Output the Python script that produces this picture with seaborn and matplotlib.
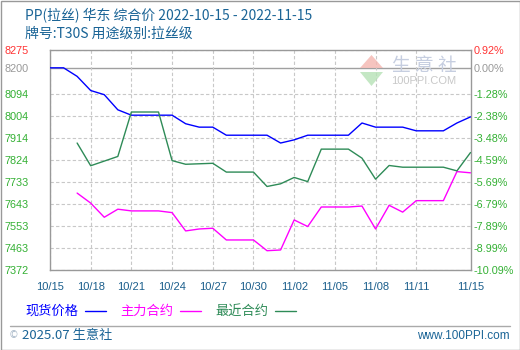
import numpy as np
import pandas as pd
import matplotlib
matplotlib.use("Agg")
import matplotlib.pyplot as plt
import seaborn as sns
from matplotlib.lines import Line2D
from matplotlib.patches import Rectangle, Polygon

sns.set_theme(style="white")
plt.rcParams['font.family'] = ['Noto Sans CJK SC', 'DejaVu Sans']

# ---------------- data ----------------
dates = pd.date_range("2022-10-15", "2022-11-15", freq="D")
spot = [8200, 8200, 8165, 8107, 8090, 8028, 8006, 8006, 8006, 8006,
        7971, 7957, 7957, 7924, 7924, 7924, 7924, 7892, 7905, 7924,
        7924, 7924, 7924, 7974, 7957, 7957, 7957, 7942, 7942, 7942,
        7974, 7999]
main_contract = [np.nan, np.nan, 7687, 7646, 7588, 7621, 7614, 7614, 7614, 7607,
                 7532, 7540, 7543, 7495, 7495, 7495, 7451, 7454, 7577, 7550,
                 7630, 7630, 7630, 7634, 7540, 7637, 7609, 7656, 7656, 7656,
                 7775, 7770]
near_contract = [np.nan, np.nan, 7892, 7799, 7818, 7837, 8019, 8019, 8019, 7820,
                 7805, 7807, 7809, 7773, 7773, 7773, 7714, 7725, 7751, 7734,
                 7867, 7867, 7867, 7830, 7744, 7800, 7793, 7793, 7793, 7793,
                 7778, 7853]

y_ticks = [8275, 8200, 8094, 8004, 7914, 7824, 7733, 7643, 7553, 7463, 7372]
pct_labels = ["0.92%", "0.00%", "-1.28%", "-2.38%", "-3.48%", "-4.59%",
              "-5.69%", "-6.79%", "-7.89%", "-8.99%", "-10.09%"]
x_tick_labels = ["10/15", "10/18", "10/21", "10/24", "10/27", "10/30",
                 "11/02", "11/05", "11/08", "11/11", "11/15"]
x_tick_dates = pd.to_datetime(["2022-10-15", "2022-10-18", "2022-10-21", "2022-10-24",
                               "2022-10-27", "2022-10-30", "2022-11-02", "2022-11-05",
                               "2022-11-08", "2022-11-11", "2022-11-15"])
series_names = ["现货价格", "主力合约", "最近合约"]
series_colors = ["#0000ff", "#ff00ff", "#2e8b57"]

df = pd.DataFrame({"date": dates, "spot": spot,
                   "main": main_contract, "near": near_contract})

# ---------------- figure ----------------
W, H = 520, 350
fig = plt.figure(figsize=(W / 100, H / 100), dpi=100)
fig.patch.set_facecolor("white")

L, R, T, B = 50, 470.5, 49.5, 270
ax = fig.add_axes([L / W, 1 - B / H, (R - L) / W, (B - T) / H])
ax.set_facecolor("white")

grid_c = "#c8c8c8"
dash = (0, (3, 2))
for v in y_ticks:
    if v == 8200:
        ax.axhline(v, color="#a0a0a0", lw=1.0, zorder=1)
    else:
        ax.axhline(v, color=grid_c, lw=0.8, ls=dash, zorder=1)
for d in x_tick_dates[:-1]:
    ax.axvline(d, color=grid_c, lw=0.8, ls=dash, zorder=1)

sns.lineplot(data=df, x="date", y="spot", color=series_colors[0], lw=1.0, ax=ax, zorder=3)
sns.lineplot(data=df, x="date", y="main", color=series_colors[1], lw=1.0, ax=ax, zorder=3)
sns.lineplot(data=df, x="date", y="near", color=series_colors[2], lw=1.0, ax=ax, zorder=3)

ax.set_xlim(dates[0], dates[-1])
ax.set_ylim(7372, 8275)
ax.set_xlabel("")
ax.set_ylabel("")
for s in ax.spines.values():
    s.set_color("#999999")
    s.set_linewidth(1.0)

num_font = dict(family="Liberation Sans", size=7.8)
ax.set_yticks(y_ticks)
ax.set_yticklabels([str(v) for v in y_ticks], fontdict=num_font)
ax.tick_params(axis="y", length=0, pad=15.5)
for i, lab in enumerate(ax.get_yticklabels()):
    lab.set_color("#ff3333" if i == 0 else ("#999999" if i == 1 else "#33b033"))

ax.set_xticks(x_tick_dates)
ax.set_xticklabels(x_tick_labels, fontdict=dict(family="Liberation Sans", size=8))
ax.tick_params(axis="x", length=0, pad=9, colors="#1a5e8c")

ax2 = ax.twinx()
ax2.set_ylim(ax.get_ylim())
ax2.set_yticks(y_ticks)
ax2.set_yticklabels(pct_labels, fontdict=num_font)
ax2.tick_params(axis="y", length=0, pad=2.5)
for i, lab in enumerate(ax2.get_yticklabels()):
    lab.set_color("#ff3333" if i == 0 else ("#999999" if i == 1 else "#33b033"))
for s in ax2.spines.values():
    s.set_visible(False)
ax2.grid(False)
ax.grid(False)

# ---------------- watermark ----------------
fig.patches.append(Polygon([[360 / W, 1 - 68 / H], [383 / W, 1 - 68 / H], [371.5 / W, 1 - 55 / H]],
                           closed=True, transform=fig.transFigure, facecolor="#f4b6b0", edgecolor="none", alpha=0.8))
fig.patches.append(Polygon([[360 / W, 1 - 72 / H], [383 / W, 1 - 72 / H], [371.5 / W, 1 - 86 / H]],
                           closed=True, transform=fig.transFigure, facecolor="#b6e2b6", edgecolor="none", alpha=0.8))
fig.text(392 / W, 1 - 66 / H, "生 意 社", fontsize=13.5, color="#c6cee0", va="center", ha="left")
fig.text(391 / W, 1 - 81 / H, "100PPI.COM", fontsize=8, color="#c8c8c8", va="center", ha="left",
         family="Liberation Sans")

# ---------------- titles ----------------
title_c = "#1a6496"
fig.text(25 / W, 1 - 16 / H, "PP(拉丝) 华东 综合价 2022-10-15 - 2022-11-15",
         fontsize=10, color=title_c, va="center", ha="left")
fig.text(25 / W, 1 - 34 / H, "牌号:T30S 用途级别:拉丝级",
         fontsize=10, color=title_c, va="center", ha="left")

# ---------------- legend ----------------
leg_y = 1 - 311 / H
leg_text_x = [25, 120, 215]
leg_line_x = [(85, 106), (180, 201), (275, 296)]
for name, c, tx, (x0, x1) in zip(series_names, series_colors, leg_text_x, leg_line_x):
    fig.text(tx / W, leg_y, name, fontsize=9.5, color=c, va="center", ha="left")
    fig.lines.append(Line2D([x0 / W, x1 / W], [leg_y, leg_y], transform=fig.transFigure,
                            color=c, lw=1.0))

# ---------------- footer ----------------
fig.lines.append(Line2D([10 / W, 510 / W], [1 - 326 / H, 1 - 326 / H], transform=fig.transFigure,
                        color="#aaaaaa", lw=1.0))
fig.text(9 / W, 1 - 335 / H, "©", fontsize=7, color="#a8b8c8", va="center", ha="left",
         family="DejaVu Sans")
fig.text(22 / W, 1 - 335 / H, "2025.07 生意社", fontsize=9.5, color=title_c, va="center", ha="left")
fig.text(510 / W, 1 - 336 / H, "www.100PPI.com", fontsize=8.5, color=title_c, va="center", ha="right",
         family="Liberation Sans")

# outer border
fig.patches.append(Rectangle((0.5 / W, 0.5 / H), (W - 1) / W, (H - 1) / H, transform=fig.transFigure,
                             fill=False, edgecolor="#999999", lw=1.0))

fig.savefig("out.png", dpi=100, facecolor="white")
